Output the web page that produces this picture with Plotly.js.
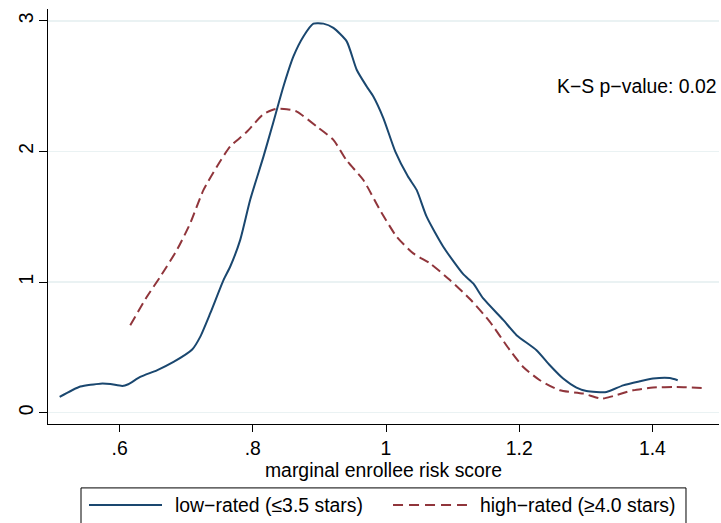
<!DOCTYPE html>
<html>
<head>
<meta charset="utf-8">
<script src="https://cdn.plot.ly/plotly-3.0.1.min.js"></script>
<style>html,body{margin:0;padding:0;background:#fff;}#chart{width:721px;height:523px;}</style>
</head>
<body>
<div id="chart"></div>
<script>
// Data
const lowX = [0.510,0.541,0.571,0.586,0.604,0.613,0.631,0.656,0.681,0.709,0.721,0.736,0.756,0.766,0.781,0.796,0.816,0.829,0.846,0.861,0.876,0.891,0.906,0.921,0.941,0.956,0.971,0.981,0.996,1.014,1.033,1.046,1.061,1.086,1.116,1.131,1.146,1.176,1.196,1.226,1.246,1.266,1.286,1.301,1.331,1.356,1.381,1.401,1.426,1.438];
const lowY = [0.12,0.20,0.222,0.219,0.204,0.217,0.273,0.324,0.388,0.483,0.58,0.759,1.015,1.117,1.321,1.628,1.96,2.19,2.497,2.727,2.88,2.978,2.978,2.945,2.842,2.625,2.497,2.42,2.255,1.998,1.807,1.705,1.50,1.27,1.06,0.989,0.874,0.710,0.593,0.478,0.363,0.261,0.192,0.166,0.158,0.209,0.240,0.261,0.265,0.248];
const highX = [0.616,0.641,0.661,0.686,0.706,0.726,0.746,0.766,0.791,0.816,0.834,0.851,0.866,0.896,0.921,0.941,0.966,0.991,1.016,1.041,1.066,1.096,1.126,1.156,1.186,1.206,1.231,1.261,1.296,1.324,1.341,1.371,1.401,1.436,1.474];
const highY = [0.669,0.887,1.04,1.245,1.449,1.705,1.883,2.037,2.15,2.285,2.325,2.323,2.305,2.19,2.088,1.93,1.781,1.551,1.347,1.219,1.143,1.015,0.87,0.695,0.478,0.350,0.248,0.171,0.146,0.107,0.127,0.171,0.192,0.196,0.189];
const seriesNames = ["low\u2212rated (\u22643.5 stars)", "high\u2212rated (\u22654.0 stars)"];
const xTickVals = [0.6,0.8,1,1.2,1.4];
const xTickText = [".6",".8","1","1.2","1.4"];
const yTickVals = [0,1,2,3];
const yTickText = ["0","1","2","3"];
const xTitle = "marginal enrollee risk score";
const ksText = "K\u2212S p\u2212value: 0.02";

const blue = "#1A476F", red = "#90353B";
const FONT = "Liberation Sans, Arial, Helvetica, sans-serif";
const FS = 19.4;

const traces = [
  {x: lowX, y: lowY, name: seriesNames[0], type: "scatter", mode: "lines",
   line: {color: blue, width: 2, shape: "spline", smoothing: 0.6}},
  {x: highX, y: highY, name: seriesNames[1], type: "scatter", mode: "lines",
   line: {color: red, width: 2, dash: "10px,5px", shape: "spline", smoothing: 0.6}}
];

// Custom legend laid out like the reference (paper coordinates)
const legTop = -0.154, legBot = -0.26, legMid = -0.1952;
const shapes = [
  {type: "rect", xref: "paper", yref: "paper", x0: 0.0492, x1: 0.9508, y0: legBot, y1: legTop,
   line: {color: "#000", width: 1}, fillcolor: "rgba(0,0,0,0)"},
  {type: "line", xref: "paper", yref: "paper", x0: 0.0611, x1: 0.1699, y0: legMid, y1: legMid,
   line: {color: blue, width: 2}},
  {type: "line", xref: "paper", yref: "paper", x0: 0.5142, x1: 0.6244, y0: legMid, y1: legMid,
   line: {color: red, width: 2, dash: "10px,6px"}}
];
const annotations = [
  {xref: "paper", yref: "paper", x: 0.1863, y: legMid, text: seriesNames[0], showarrow: false,
   xanchor: "left", yanchor: "middle", font: {family: FONT, size: FS, color: "#000"}},
  {xref: "paper", yref: "paper", x: 0.6408, y: legMid, text: seriesNames[1], showarrow: false,
   xanchor: "left", yanchor: "middle", font: {family: FONT, size: FS, color: "#000"}},
  {xref: "x", yref: "y", x: 1.5, y: 2.5, text: ksText, showarrow: false,
   xanchor: "right", yanchor: "middle", font: {family: FONT, size: FS, color: "#000"}}
];

const layout = {
  width: 721, height: 523,
  margin: {l: 48, r: 2, t: 9, b: 99},
  paper_bgcolor: "#fff", plot_bgcolor: "#fff",
  showlegend: false,
  font: {family: FONT, size: FS, color: "#000"},
  xaxis: {
    range: [0.4925, 1.5], tickvals: xTickVals, ticktext: xTickText,
    ticks: "outside", ticklen: 7, tickwidth: 1, tickcolor: "#000",
    showline: true, linecolor: "#000", linewidth: 1, mirror: false,
    showgrid: false, zeroline: false,
    tickfont: {family: FONT, size: FS, color: "#000"},
    title: {text: xTitle, font: {family: FONT, size: FS, color: "#000"}, standoff: 4}
  },
  yaxis: {
    range: [-0.087, 3.09], tickvals: yTickVals, ticktext: yTickText, tickangle: -90,
    ticks: "outside", ticklen: 8, tickwidth: 1, tickcolor: "#000",
    showline: true, linecolor: "#000", linewidth: 1,
    showgrid: true, gridcolor: "#EAF2F3", gridwidth: 1.5, zeroline: false,
    ticklabelstandoff: -2,
    tickfont: {family: FONT, size: FS, color: "#000"}
  },
  shapes: shapes,
  annotations: annotations
};

Plotly.newPlot("chart", traces, layout, {displayModeBar: false, staticPlot: true});
</script>
</body>
</html>
